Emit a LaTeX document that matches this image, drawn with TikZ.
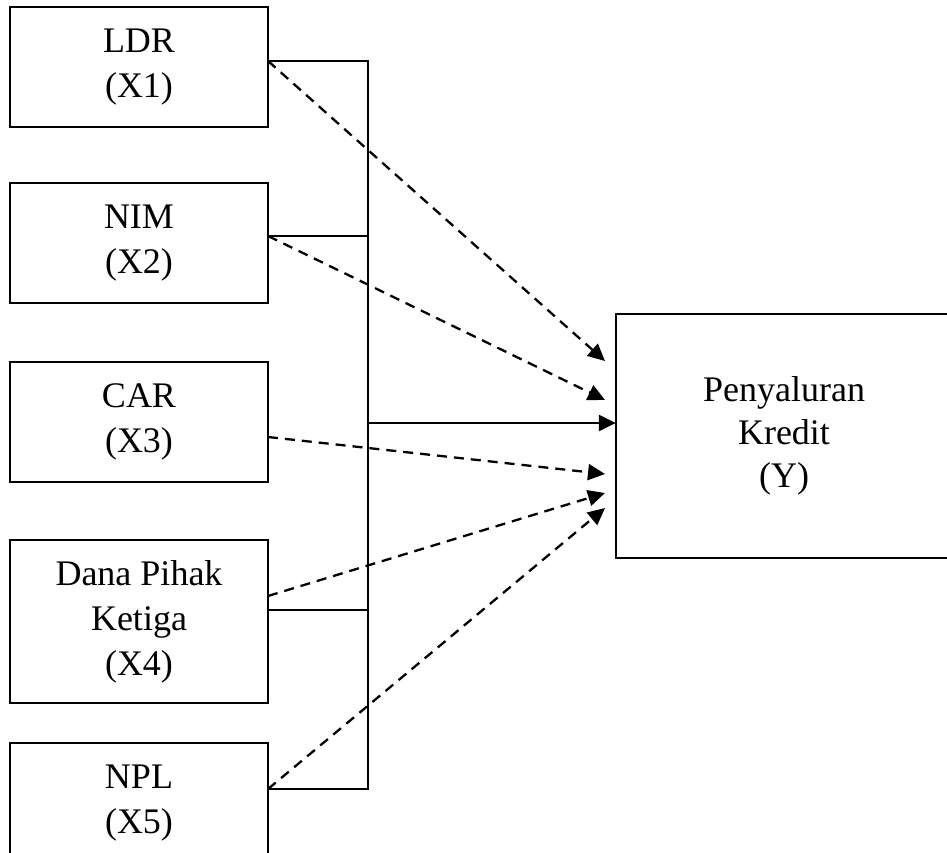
\documentclass[tikz,border=0pt]{standalone}
\usepackage{fontspec}
\setmainfont{Liberation Serif}
\usetikzlibrary{arrows.meta}
\begin{document}
\begin{tikzpicture}[x=1pt,y=-1pt,
  box/.style={draw, line width=2.3pt, inner sep=0pt, align=center,
    font=\fontsize{36}{45}\selectfont},
  link/.style={line width=2.3pt},
  dlink/.style={line width=2.3pt, dash pattern=on 10pt off 7pt, -{Triangle[length=17pt,width=16pt]}},
  slink/.style={line width=2.3pt, -{Triangle[length=17pt,width=16pt]}}]
\useasboundingbox (0,0) rectangle (947,852);
\node[box, minimum width=258pt, minimum height=120pt] (x1) at (139,67) {LDR\\(X1)};
\node[box, minimum width=258pt, minimum height=120pt] (x2) at (139,243) {NIM\\(X2)};
\node[box, minimum width=258pt, minimum height=120pt] (x3) at (139,422) {CAR\\(X3)};
\node[box, minimum width=258pt, minimum height=163pt] (x4) at (139,621.5) {Dana Pihak\\Ketiga\\(X4)};
\node[box, minimum width=258pt, minimum height=120pt] (x5) at (139,803) {NPL\\(X5)};
\node[box, draw=none, minimum width=334pt, minimum height=242pt, text width=300pt,
  font=\fontsize{36}{43}\selectfont] (y) at (784,436) {Penyaluran\\Kredit\\(Y)};
\draw[link] (y.north east) -- (y.north west) -- (y.south west) -- (y.south east);
% attachment points
\coordinate (a1) at (268,61);
\coordinate (a2) at (268,236);
\coordinate (a3) at (268,437);
\coordinate (a4d) at (268,596);
\coordinate (a4) at (268,610);
\coordinate (a5) at (268,789);
\coordinate (b1) at (368,61);
\coordinate (b2) at (368,236);
\coordinate (bm) at (368,423);
\coordinate (b4) at (368,610);
\coordinate (b5) at (368,789);
\coordinate (t1) at (605,361);
\coordinate (t2) at (605,400);
\coordinate (t3) at (605,474);
\coordinate (t4) at (605,493);
\coordinate (t5) at (605,508);
% bus
\draw[link] (a1) -- (b1) -- (b5) -- (a5);
\draw[link] (a2) -- (b2);
\draw[link] (a4) -- (b4);
\draw[slink] (bm) -- (bm -| y.west);
% dashed arrows
\draw[dlink] (a1) -- (t1);
\draw[dlink] (a2) -- (t2);
\draw[dlink] (a3) -- (t3);
\draw[dlink] (a4d) -- (t4);
\draw[dlink] (a5) -- (t5);
\end{tikzpicture}
\end{document}
